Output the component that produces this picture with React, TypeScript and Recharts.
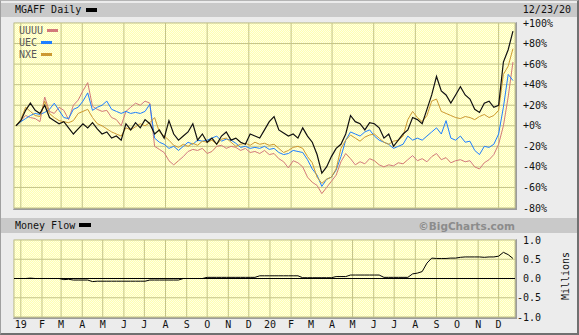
import React from 'react'
import { LineChart, Line, XAxis, YAxis, CartesianGrid, ReferenceLine } from 'recharts'

const FONT = '"DejaVu Sans Mono", monospace'
const C = { grid: '#c4c488', frame: '#9c9c9c', bar: '#c9c9c9', page: '#ececec', text: '#111', legend: '#5a5a5a' }

// weekly closes, day 0 = Jan 1 2019, first point Dec 25 2018
const startDay = -7
const mgaff = [
  0, 5, 15, 22, 15, 12, 20, 8, 5, 2,
  4, -2, -8, -3, 2, -2, 3, -3, -8, -6,
  -12, -10, -14, 2, -4, 3, -2, 6, 2, -8,
  -4, -12, 5, -8, -14, -10, -6, 2, -14, -8,
  -16, -12, -18, -10, -6, -14, -12, -16, -18, -8,
  -10, -12, -4, 4, 9, -4, -7, -10, -8, -12,
  -2, -10, -16, -28, -46, -40, -30, -22, -18, -8,
  10, 4, 2, -4, 3, 2, -2, -12, -8, -20,
  -14, -8, -4, 8, 6, 2, 16, 30, 48, 34,
  30, 22, 30, 38, 30, 26, 16, 13, 22, 24,
  18, 20, 62, 74, 92,
]
const uuuu = [
  0, 5, 10, 8, 7, 4, 28, 14, 12, 18,
  15, 6, 20, 25, 34, 42, 19, 16, 14, 15,
  8, 6, 0, 14, 18, 22, 20, 24, 22, -20,
  -23, -26, -34, -38, -34, -30, -25, -23, -24, -22,
  -27, -25, -20, -19, -22, -20, -21, -24, -22, -26,
  -25, -27, -24, -28, -27, -32, -35, -41, -34, -36,
  -40, -50, -55, -58, -66, -60, -54, -48, -35, -27,
  -32, -38, -35, -37, -32, -34, -38, -40, -38, -39,
  -36, -37, -33, -29, -34, -32, -35, -30, -27, -33,
  -31, -36, -34, -33, -35, -34, -40, -42, -36, -33,
  -28, -18, 0, 28, 62,
]
const uec = [
  0, 4, 7, 10, 12, 11, 13, 16, 22, 15,
  8, 7, 16, 18, 24, 32, 15, 18, 20, 24,
  16, 14, 12, 14, 12, 13, 12, 14, 21, -12,
  -16, -18, -22, -20, -24, -20, -16, -18, -14, -15,
  -14, -12, -10, -15, -13, -14, -17, -21, -20, -22,
  -21, -22, -20, -23, -22, -26, -28, -27, -24, -25,
  -26, -33, -42, -48, -59, -52, -50, -43, -30, -14,
  -6, -8, -10, -6, -4, -10, -14, -16, -18, -22,
  -20, -18, -10, -14, -12, -14, -10, -6, -2, -8,
  5, -12, -14, -10, -16, -15, -24, -28, -20, -21,
  -18, -8, 18, 50, 44,
]
const nxe = [
  0, 6, 18, 14, 10, 9, 24, 12, 8, 5,
  4, 3, 5, 12, 14, 16, 8, 2, 0, -3,
  -6, -8, -10, -2, -4, -1, 2, 0, 3, 8,
  -6, -10, -14, -19, -21, -18, -20, -17, -19, -15,
  -16, -14, -18, -13, -12, -16, -20, -18, -17, -19,
  -16, -18, -17, -19, -18, -22, -26, -24, -21, -20,
  -22, -30, -36, -50, -56, -52, -50, -42, -22, -14,
  -9, -12, -15, -11, -9, -8, -12, -16, -18, -15,
  -14, -10, 6, 14, 8, 4, 10, 24, 26, 14,
  12, 10, 8, 7, 9, 8, 6, 9, 11, 8,
  10, 15, 50, 58, 75,
]
// money flow, millions
const moneyFlow = [
  0, 0, 0, 0.01, 0, 0, 0, 0, 0, 0,
  -0.03, -0.02, -0.04, -0.04, -0.04, -0.04, -0.08, -0.07, -0.07, -0.07,
  -0.07, -0.07, -0.07, -0.07, -0.07, -0.07, -0.07, -0.07, -0.04, -0.04,
  -0.04, -0.04, -0.04, -0.04, -0.04, 0, 0, 0, 0, 0,
  0.03, 0.03, 0.03, 0.03, 0.03, 0.03, 0.03, 0.03, 0.03, 0.03,
  0.03, 0.07, 0.07, 0.07, 0.07, 0.07, 0.07, 0.07, 0.07, 0.07,
  0.02, 0.02, 0.02, 0.02, 0.02, 0.02, 0.02, 0.05, 0.05, 0.05,
  0.09, 0.09, 0.09, 0.09, 0.09, 0.09, 0.09, 0.03, 0.03, 0.03,
  0.03, 0.03, 0.03, 0.12, 0.14, 0.18, 0.4, 0.53, 0.52, 0.52,
  0.52, 0.53, 0.53, 0.55, 0.56, 0.56, 0.56, 0.56, 0.55, 0.56,
  0.56, 0.58, 0.68, 0.62, 0.52,
]

const monthTicks = [0, 31, 59, 90, 120, 151, 181, 212, 243, 273, 304, 334, 365, 396, 425, 456, 486, 517, 547, 578, 609, 639, 670, 700]
const monthLabels = ['19', 'F', 'M', 'A', 'M', 'J', 'J', 'A', 'S', 'O', 'N', 'D', '20', 'F', 'M', 'A', 'M', 'J', 'J', 'A', 'S', 'O', 'N', 'D']
const pctTicks = [-80, -60, -40, -20, 0, 20, 40, 60, 80, 100]
const mfTicks = [-1, -0.5, 0, 0.5, 1]

const comps = [
  { key: 'uuuu', name: 'UUUU', color: '#d27a7a' },
  { key: 'uec', name: 'UEC', color: '#1f7fff' },
  { key: 'nxe', name: 'NXE', color: '#cc9933' },
]

const rows = mgaff.map((v, i) => ({
  day: startDay + i * 7, mgaff: v, uuuu: uuuu[i], uec: uec[i], nxe: nxe[i], mf: moneyFlow[i],
}))

const Checker = ({ id }: { id: string }) => (
  <defs>
    <pattern id={id} width="2" height="2" patternUnits="userSpaceOnUse">
      <rect width="2" height="2" fill="#ffffb0" />
      <rect width="1" height="1" fill="#ffffe4" />
      <rect x="1" y="1" width="1" height="1" fill="#ffffe4" />
    </pattern>
  </defs>
)

const PctTick = ({ x, y, payload }: any) => (
  <text x={x} y={y} dy={3.5} fontSize={10} fontFamily={FONT} fill={C.text}>
    {payload.value >= 0 ? `+${payload.value}%` : `${payload.value}%`}
  </text>
)
const MfTick = ({ x, y, payload }: any) => (
  <text x={x + 18} y={y} dy={3.5} textAnchor="end" fontSize={10} fontFamily={FONT} fill={C.text}>
    {payload.value.toFixed(1)}
  </text>
)
const MonthTick = ({ x, y, payload }: any) => (
  <text x={x} y={y} dy="0.71em" textAnchor="middle" fontSize={10} fontFamily={FONT} fill={C.text}>
    {monthLabels[monthTicks.indexOf(payload.value)]}
  </text>
)

const abs = (s: React.CSSProperties): React.CSSProperties => ({ position: 'absolute', ...s })
const label: React.CSSProperties = { fontFamily: FONT, fontSize: 10, color: C.text, lineHeight: '14px', whiteSpace: 'nowrap' }

export default function App() {
  return (
    <div style={abs({ left: 0, top: 0, width: 579, height: 335, background: C.page, overflow: 'hidden' })}>
      {/* header bars */}
      <div style={abs({ left: 1, top: 3, width: 576, height: 14, background: C.bar })} />
      <div style={abs({ ...label, left: 15, top: 3 })}>MGAFF Daily</div>
      <div style={abs({ left: 86, top: 8, width: 11, height: 4, background: '#000' })} />
      <div style={abs({ ...label, right: 8, top: 3 })}>12/23/20</div>

      <div style={abs({ left: 1, top: 218, width: 576, height: 15, background: C.bar })} />
      <div style={abs({ ...label, left: 15, top: 218.5 })}>Money Flow</div>
      <div style={abs({ left: 79, top: 223, width: 12, height: 4, background: '#000' })} />
      <div style={abs({ ...label, right: 64, top: 218.5, fontFamily: '"DejaVu Sans", sans-serif', fontWeight: 700, color: '#8c8c8c', fontSize: 10.5 })}>©BigCharts.com</div>

      {/* plot frames */}
      <div style={abs({ left: 13, top: 22, width: 504, height: 188, boxSizing: 'border-box', borderTop: '1px solid #dcdcdc', borderLeft: '1px solid #dcdcdc', borderRight: `2px solid ${C.frame}`, borderBottom: `2px solid ${C.frame}` })} />
      <div style={abs({ left: 13, top: 239, width: 504, height: 80, boxSizing: 'border-box', borderTop: '1px solid #dcdcdc', borderLeft: '1px solid #dcdcdc', borderRight: `2px solid ${C.frame}`, borderBottom: `2px solid ${C.frame}` })} />

      <div style={abs({ left: 0, top: 0 })}>
        <LineChart width={579} height={215} data={rows} margin={{ top: 23, right: 0, left: 14, bottom: 7 }}>
          <Checker id="chk1" />
          <CartesianGrid stroke={C.grid} strokeWidth={1} fill="url(#chk1)" fillOpacity={1} />
          <XAxis type="number" dataKey="day" domain={[-10, 724]} ticks={monthTicks} hide />
          <YAxis orientation="right" type="number" domain={[-80, 100]} ticks={pctTicks} width={64}
            tickLine={false} axisLine={false} tickSize={0} tickMargin={8} tick={<PctTick />} interval={0} />
          {comps.map(s => (
            <Line key={s.key} dataKey={s.key} stroke={s.color} strokeWidth={1} dot={false} isAnimationActive={false} />
          ))}
          <Line dataKey="mgaff" stroke="#111" strokeWidth={1.2} dot={false} isAnimationActive={false} />
        </LineChart>
      </div>

      {/* legend */}
      {comps.map((s, i) => (
        <React.Fragment key={s.key}>
          <div style={abs({ ...label, color: C.legend, left: 19, top: 23.5 + i * 12 })}>{s.name}</div>
          <div style={abs({ left: 19 + s.name.length * 6 + 4, top: 29 + i * 12, width: 11, height: 3, background: s.color })} />
        </React.Fragment>
      ))}

      <div style={abs({ left: 0, top: 234 })}>
        <LineChart width={579} height={101} data={rows} margin={{ top: 6, right: 0, left: 14, bottom: 0 }}>
          <Checker id="chk2" />
          <CartesianGrid stroke={C.grid} strokeWidth={1} fill="url(#chk2)" fillOpacity={1} />
          <XAxis type="number" dataKey="day" domain={[-10, 724]} ticks={monthTicks} interval={0} height={18}
            tickLine={false} axisLine={false} tickSize={0} tickMargin={4} tick={<MonthTick />} />
          <YAxis orientation="right" type="number" domain={[-1, 1]} ticks={mfTicks} width={64}
            tickLine={false} axisLine={false} tickSize={0} tickMargin={8} tick={<MfTick />} interval={0} />
          <ReferenceLine y={0} stroke="#000" strokeWidth={1} />
          <Line dataKey="mf" stroke="#000" strokeWidth={1} dot={false} isAnimationActive={false} />
        </LineChart>
      </div>

      <div style={abs({ ...label, left: 566, top: 276, transform: 'translate(-50%, -50%) rotate(-90deg)' })}>Millions</div>

      {/* outer border */}
      <div style={abs({ left: 0, top: 0, width: 579, height: 335, boxSizing: 'border-box', borderTop: '1px solid #b4b4b4', borderLeft: '1px solid #a0a0a0', borderRight: '2px solid #707070', borderBottom: '2px solid #707070', pointerEvents: 'none' })} />
    </div>
  )
}
